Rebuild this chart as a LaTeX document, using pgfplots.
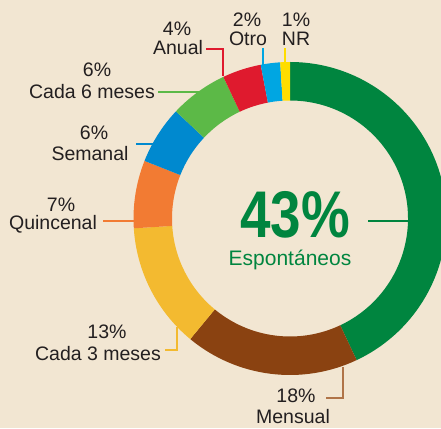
\documentclass[border=0pt]{standalone}
\usepackage{pgfplots}
\pgfplotsset{compat=1.18}
\usepackage{pgfplotstable}
\usepackage{fontspec}
\setmainfont{Liberation Sans}

\definecolor{bg}{HTML}{F2E6D2}
\definecolor{txt}{HTML}{231F20}
\definecolor{cSpon}{HTML}{00853F}
\definecolor{cMens}{HTML}{8A4211}
\definecolor{cMensL}{HTML}{B07448}
\definecolor{cTres}{HTML}{F3BA30}
\definecolor{cQuin}{HTML}{F27B33}
\definecolor{cSema}{HTML}{0089CF}
\definecolor{cSeis}{HTML}{5CB947}
\definecolor{cAnua}{HTML}{DF1A2E}
\definecolor{cOtro}{HTML}{00A6E2}
\definecolor{cNR}{HTML}{FFDD00}

% share of answers, clockwise from 12 o'clock
\pgfplotstableread{
value color
43 cSpon
18 cMens
13 cTres
7  cQuin
6  cSema
6  cSeis
4  cAnua
2  cOtro
1  cNR
}\slices

\newcommand\lbl{\fontsize{19.5}{20}\selectfont}

\begin{document}
\begin{tikzpicture}
\useasboundingbox (0,0) rectangle (441pt,428pt);
\clip (0,0) rectangle (441pt,428pt);
\fill[bg] (0,0) rectangle (441pt,428pt);
\begin{axis}[at={(0,0)}, anchor=origin, x=1pt, y=1pt,
  xmin=0, xmax=441, ymin=0, ymax=428, hide axis, clip=false]
\pgfplotsextra{
  \pgfplotstablegetrowsof{\slices}
  \pgfmathtruncatemacro\nlast{\pgfplotsretval-1}
  \gdef\acc{90}
  \foreach \i in {0,...,\nlast}{
    \pgfplotstablegetelem{\i}{value}\of\slices \let\val\pgfplotsretval
    \pgfplotstablegetelem{\i}{color}\of\slices \let\col\pgfplotsretval
    \pgfmathsetmacro\aa{\acc}
    \pgfmathsetmacro\ab{\acc-3.6*\val}
    \pgfmathsetmacro\xa{290+156.5*cos(\aa)}
    \pgfmathsetmacro\ya{209.5+156.5*sin(\aa)}
    \pgfmathsetmacro\xb{290+118*cos(\ab)}
    \pgfmathsetmacro\yb{209.5+118*sin(\ab)}
    \fill[\col] (axis cs:\xa,\ya) arc[start angle=\aa, end angle=\ab, radius=156.5pt]
      -- (axis cs:\xb,\yb) arc[start angle=\ab, end angle=\aa, radius=118pt] -- cycle;
    \xdef\acc{\ab}
  }
}
% leader lines
\draw[cNR, line width=1.3pt] (axis cs:285,380) -- (axis cs:285,364);
\draw[cOtro, line width=1.3pt] (axis cs:263,380) -- (axis cs:263,362);
\draw[cAnua, line width=1.3pt] (axis cs:206,379) -- (axis cs:223,379) -- (axis cs:223,352);
\draw[cSeis, line width=1.3pt] (axis cs:158,336) -- (axis cs:202,336);
\draw[cSema, line width=1.3pt] (axis cs:136,284) -- (axis cs:155,284);
\draw[cQuin, line width=1.3pt] (axis cs:103,207) -- (axis cs:137,207);
\draw[cTres, line width=1.3pt] (axis cs:165,78) -- (axis cs:177,78) -- (axis cs:177,101);
\draw[cMensL, line width=1.3pt] (axis cs:326,30) -- (axis cs:343,30) -- (axis cs:343,61);
\draw[cSpon, line width=1.3pt] (axis cs:368,207) -- (axis cs:410,207);
% labels
\begin{scope}[every node/.style={anchor=base, text=txt, font=\lbl, inner sep=0pt}]
\node at (axis cs:296,401) {1\%};
\node at (axis cs:296,382) {NR};
\node at (axis cs:247,401) {2\%};
\node at (axis cs:248,382) {Otro};
\node at (axis cs:177,392) {4\%};
\node at (axis cs:178,373) {Anual};
\node at (axis cs:97,351) {6\%};
\node at (axis cs:92,329) {Cada 6 meses};
\node at (axis cs:94,288) {6\%};
\node at (axis cs:90,267) {Semanal};
\node at (axis cs:61,216) {7\%};
\node at (axis cs:53,198) {Quincenal};
\node at (axis cs:107,89) {13\%};
\node at (axis cs:98,67) {Cada 3 meses};
\node at (axis cs:296,26) {18\%};
\node at (axis cs:293,5) {Mensual};
\end{scope}
\node[anchor=base, text=cSpon, inner sep=0pt, text depth=0pt, font=\fontsize{66}{66}\selectfont\bfseries]
  at (axis cs:295,190) {\scalebox{0.83}[1]{43\%}};
\node[anchor=base, text=cSpon, inner sep=0pt, font=\fontsize{21}{21}\selectfont]
  at (axis cs:290,162) {Espontáneos};
\end{axis}
\end{tikzpicture}
\end{document}
